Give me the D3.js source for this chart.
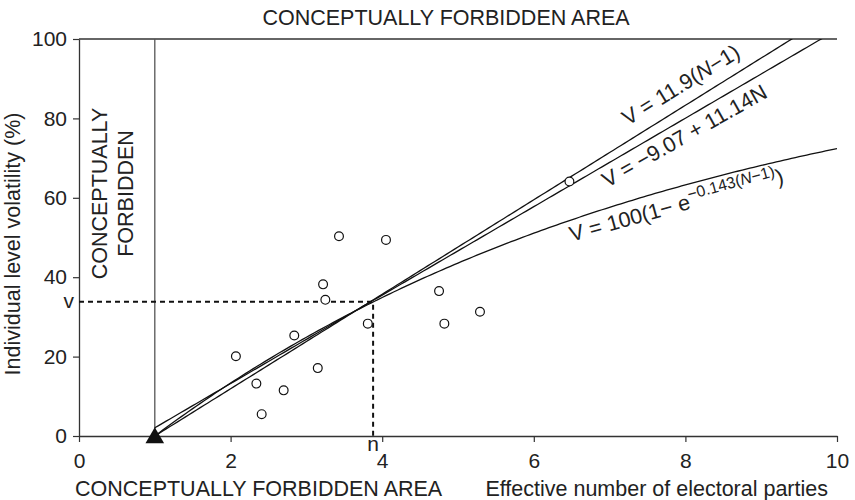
<!DOCTYPE html>
<html>
<head>
<meta charset="utf-8">
<script src="https://cdn.jsdelivr.net/npm/d3@7/dist/d3.min.js"></script>
<style>
  html, body { margin: 0; padding: 0; background: #fff; }
  svg { display: block; font-family: "Liberation Sans", Arial, Helvetica, sans-serif; }
</style>
</head>
<body>
<svg id="chart" width="855" height="500"></svg>
<script>
// Observed party systems: effective number of electoral parties vs. volatility
const effectiveParties = [2.07, 2.34, 2.41, 2.70, 2.84, 3.15, 3.22, 3.25, 3.43, 3.81, 4.05, 4.75, 4.82, 5.29, 6.47];
const volatility       = [20.1, 13.2, 5.5, 11.5, 25.3, 17.1, 38.2, 34.3, 50.3, 28.3, 49.4, 36.5, 28.3, 31.3, 64.1];

// Axis ticks
const xTicks = [0, 2, 4, 6, 8, 10];
const yTicks = [0, 20, 40, 60, 80, 100];

// Fitted models (coefficients as stated in the labels)
const slopeOrigin = [11.9];            // V = 11.9(N-1)
const olsFit = [-9.07, 11.14];         // V = -9.07 + 11.14N
const expFit = [100, 0.143];           // V = 100(1 - e^{-0.143(N-1)})

// Reference point on the curves
const markN = [3.88];
const markV = [33.8];

// Sample grid along N for drawing the fitted curves
const curveN = d3.range(1, 10.0001, 0.05);

const svg = d3.select("#chart");
const xs = d3.scaleLinear().domain([0, 10]).range([79, 837]);
const ys = d3.scaleLinear().domain([0, 100]).range([436, 39]);

const axisColor = "#333";
const fontSize = 21.5;
const tickFont = 21;

svg.append("defs").append("clipPath").attr("id", "plot")
  .append("rect").attr("x", xs(0)).attr("y", ys(100))
  .attr("width", xs(10) - xs(0)).attr("height", ys(0) - ys(100));

// Axes
const gx = svg.append("g").attr("transform", `translate(0,${ys(0)})`)
  .call(d3.axisBottom(xs).tickValues(xTicks).tickSize(6).tickSizeOuter(0).tickPadding(11));
const gy = svg.append("g").attr("transform", `translate(${xs(0)},0)`)
  .call(d3.axisLeft(ys).tickValues(yTicks).tickSize(6).tickSizeOuter(0).tickPadding(6));
[gx, gy].forEach(g => {
  g.select(".domain").attr("stroke", axisColor).attr("stroke-width", 1.3);
  g.selectAll(".tick line").attr("stroke", axisColor).attr("stroke-width", 1.2);
  g.selectAll(".tick text").attr("fill", "#222").style("font-size", tickFont + "px")
    .style("font-family", '"Liberation Sans", Arial, sans-serif');
});

// Top boundary
svg.append("line").attr("x1", xs(0)).attr("x2", xs(10)).attr("y1", ys(100)).attr("y2", ys(100))
  .attr("stroke", axisColor).attr("stroke-width", 1.3);

// N = 1 boundary
svg.append("line").attr("x1", xs(1)).attr("x2", xs(1)).attr("y1", ys(100)).attr("y2", ys(0))
  .attr("stroke", "#555").attr("stroke-width", 1.3);

// Dashed guides to the crossing point
svg.append("path")
  .attr("d", `M${xs(0)},${ys(markV[0])}H${xs(markN[0])}V${ys(0)}`)
  .attr("fill", "none").attr("stroke", "#111").attr("stroke-width", 2)
  .attr("stroke-dasharray", "5,4");

// Fitted curves
const line = d3.line().x(d => xs(d[0])).y(d => ys(d[1]));
const models = [
  n => slopeOrigin[0] * (n - 1),
  n => olsFit[0] + olsFit[1] * n,
  n => expFit[0] * (1 - Math.exp(-expFit[1] * (n - 1)))
];
svg.append("g").attr("clip-path", "url(#plot)")
  .selectAll("path").data(models).join("path")
  .attr("d", f => line(curveN.map(n => [n, f(n)])))
  .attr("fill", "none").attr("stroke", "#111").attr("stroke-width", 1.3);

// Observations
svg.append("g").selectAll("circle").data(effectiveParties).join("circle")
  .attr("cx", d => xs(d)).attr("cy", (d, i) => ys(volatility[i]))
  .attr("r", 4.4).attr("fill", "#fff").attr("stroke", "#111").attr("stroke-width", 1.2);

// Triangle at (1, 0)
svg.append("path")
  .attr("d", d3.symbol(d3.symbolTriangle).size(150)())
  .attr("transform", `translate(${xs(1)},${ys(0) + 2})`)
  .attr("fill", "#111");

// Text
const txt = (x, y, s, anchor = "start", rot = 0, size = fontSize) =>
  svg.append("text").attr("transform", `translate(${x},${y}) rotate(${rot})`)
    .attr("text-anchor", anchor).attr("fill", "#222").style("font-size", size + "px").text(s);

txt(446, 25, "CONCEPTUALLY FORBIDDEN AREA", "middle");
txt(75, 496, "CONCEPTUALLY FORBIDDEN AREA");
txt(828, 496, "Effective number of electoral parties", "end");
txt(20, 244, "Individual level volatility (%)", "middle", -90);
txt(107, 193.5, "CONCEPTUALLY", "middle", -90);
txt(133, 193.5, "FORBIDDEN", "middle", -90);
txt(xs(markN[0]), 451, "n", "middle", 0, tickFont);
txt(xs(0) - 5, ys(markV[0]) + 6, "v", "end", 0, tickFont);

// Model labels
const l1 = txt(xs(7.24), ys(78.1), "", "start", -31.5);
l1.append("tspan").text("V = 11.9(");
l1.append("tspan").style("font-style", "italic").text("N");
l1.append("tspan").text("−1)");

txt(xs(6.97), ys(62.5), "V = −9.07 + 11.14N", "start", -29.5);

const l3 = txt(xs(6.5), ys(48.9), "", "start", -15.5);
l3.append("tspan").text("V = 100(1− e");
l3.append("tspan").attr("dy", -9).style("font-size", "16px").text("−0.143(");
l3.append("tspan").style("font-size", "16px").style("font-style", "italic").text("N");
l3.append("tspan").style("font-size", "16px").text("−1)");
l3.append("tspan").attr("dy", 9).text(")");
</script>
</body>
</html>
